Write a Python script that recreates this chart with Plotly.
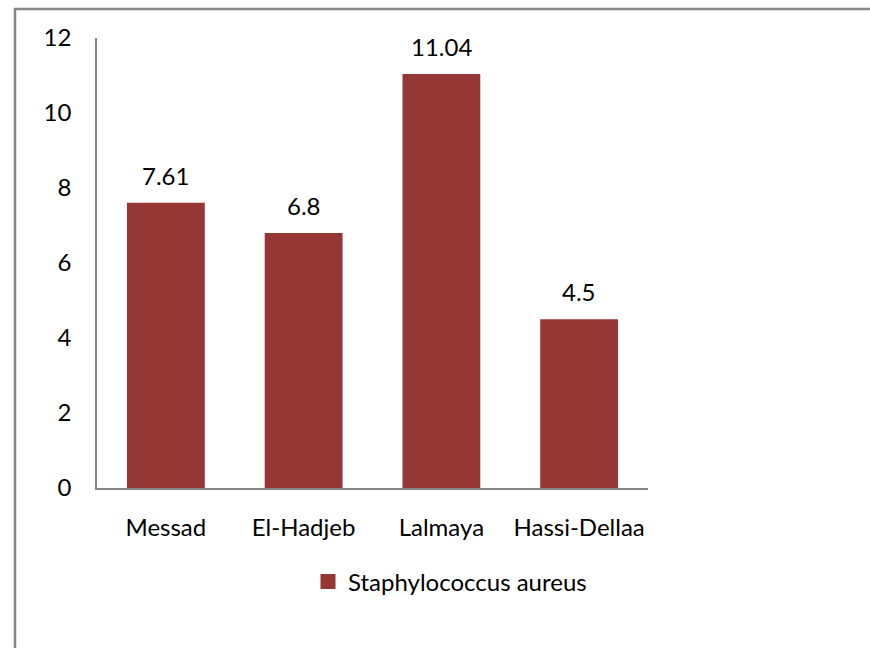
import plotly.graph_objects as go

categories = ["Messad", "El-Hadjeb", "Lalmaya", "Hassi-Dellaa"]
values = [7.61, 6.8, 11.04, 4.5]
value_labels = ["7.61", "6.8", "11.04", "4.5"]
series_name = "Staphylococcus aureus"
y_ticks = [0, 2, 4, 6, 8, 10, 12]

FONT = "Lato, 'Open Sans', sans-serif"
FS = 24
BAR_COLOR = "#953735"
AXIS_COLOR = "#868686"

fig = go.Figure()
fig.add_trace(go.Bar(
    x=categories, y=values, name=series_name,
    marker=dict(color=BAR_COLOR, line=dict(width=0)),
    showlegend=False,
))
# legend entry with a larger square symbol
fig.add_trace(go.Scatter(
    x=[None], y=[None], mode="markers", name=series_name,
    marker=dict(symbol="square", size=15, color=BAR_COLOR),
    showlegend=True,
))

for c, v, t in zip(categories, values, value_labels):
    fig.add_annotation(x=c, y=v, text=t, showarrow=False, yanchor="bottom",
                       yshift=11, font=dict(family=FONT, size=FS, color="black"))

L, R, T, B = 97, 222, 38, 160
W, H = 870, 648
pw, ph = W - L - R, H - T - B

# outer chart border
fig.add_shape(type="rect", xref="paper", yref="paper",
              x0=(15 - L) / pw, x1=(W + 20 - L) / pw,
              y0=(H - B - (H + 20)) / ph, y1=(H - B - 9) / ph,
              line=dict(color=AXIS_COLOR, width=2.5), fillcolor="rgba(0,0,0,0)",
              layer="below")

fig.update_layout(
    width=W, height=H,
    margin=dict(l=L, r=R, t=T, b=B, pad=0),
    paper_bgcolor="white", plot_bgcolor="white",
    bargap=0.435,
    font=dict(family=FONT, size=FS, color="black"),
    showlegend=True,
    legend=dict(orientation="h", x=(450 - L) / pw, xanchor="center",
                y=(H - B - 582) / ph, yanchor="middle",
                font=dict(family=FONT, size=FS, color="black"),
                itemsizing="trace", itemwidth=30, bgcolor="rgba(0,0,0,0)"),
    xaxis=dict(showline=True, linecolor=AXIS_COLOR, linewidth=1.5,
               ticks="", showgrid=False, ticklabelstandoff=17,
               tickfont=dict(family=FONT, size=FS, color="black")),
    yaxis=dict(range=[0, 12], tickvals=y_ticks, showline=True, linecolor=AXIS_COLOR,
               linewidth=1.5, ticks="", showgrid=False, zeroline=False,
               ticklabelstandoff=19,
               tickfont=dict(family=FONT, size=FS, color="black")),
)

fig.write_html("out.html")
